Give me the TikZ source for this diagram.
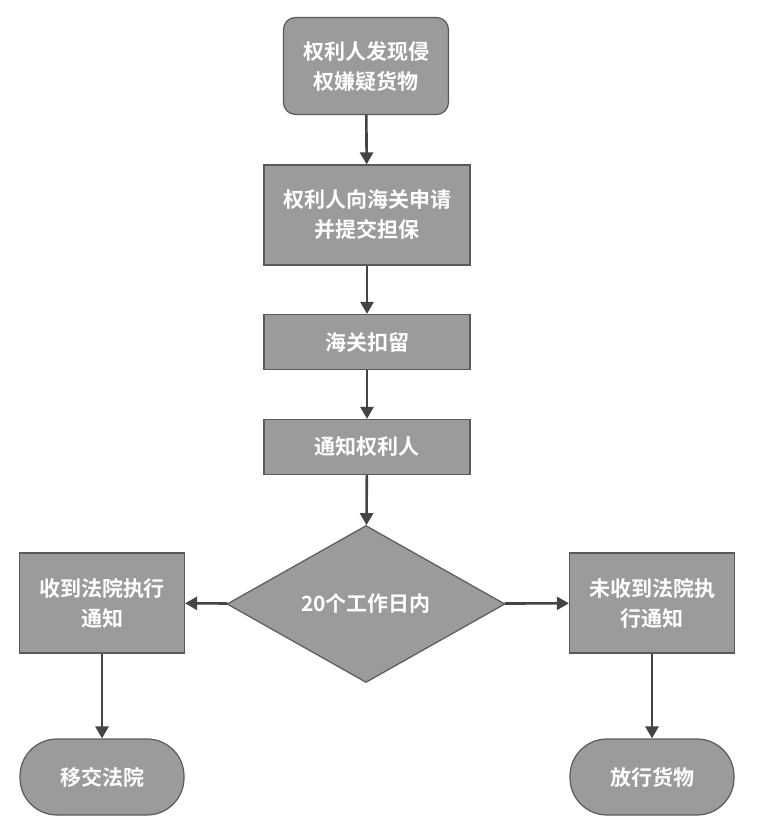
\documentclass[tikz,border=0pt]{standalone}
\usepackage{fontspec}
\newfontfamily\cjk{Noto Sans CJK SC}[BoldFont={* Bold}]
\usetikzlibrary{arrows.meta, shapes.geometric}

\definecolor{boxfill}{HTML}{9B9B9B}
\definecolor{boxline}{HTML}{5A5A5A}
\definecolor{arrowcol}{HTML}{444444}

\tikzset{
  base/.style={fill=boxfill, draw=boxline, line width=1.2pt, text=white,
    font=\cjk\bfseries\fontsize{21}{30}\selectfont, align=center, inner sep=0pt},
  procbox/.style={base, rectangle, minimum width=206pt},
  startbox/.style={base, rectangle, rounded corners=12pt, minimum width=165pt, minimum height=97pt},
  sidebox/.style={base, rectangle, minimum width=165pt, minimum height=100pt},
  endbox/.style={base, rectangle, rounded corners=37pt, minimum width=164pt, minimum height=76pt},
  decide/.style={base, diamond, minimum width=278pt, minimum height=157pt},
  flow/.style={-{Triangle[length=12pt,width=13pt]}, draw=arrowcol, line width=2.6pt}
}

\begin{document}
\begin{tikzpicture}[x=1pt, y=-1pt]
  \useasboundingbox (0,0) rectangle (756,836);
  \node[startbox] (find) at (366,66) {权利人发现侵\\权嫌疑货物};
  \node[procbox, minimum height=100pt] (apply) at (367,215) {权利人向海关申请\\并提交担保};
  \node[procbox, minimum height=55pt] (hold) at (367,342) {海关扣留};
  \node[procbox, minimum height=55pt] (notify) at (367,447) {通知权利人};
  \node[decide] (days) at (366,604) {20个工作日内};
  \node[sidebox] (got) at (102,603) {收到法院执行\\通知};
  \node[sidebox] (notgot) at (652,603) {未收到法院执\\行通知};
  \node[endbox] (court) at (102,777) {移交法院};
  \node[endbox] (release) at (652,777) {放行货物};

  \draw[flow] (find) -- (apply);
  \draw[flow] (apply) -- (hold);
  \draw[flow] (hold) -- (notify);
  \draw[flow] (notify) -- (days);
  \draw[flow] (days) -- (got);
  \draw[flow] (days) -- (notgot);
  \draw[flow] (got) -- (court);
  \draw[flow] (notgot) -- (release);
\end{tikzpicture}
\end{document}
